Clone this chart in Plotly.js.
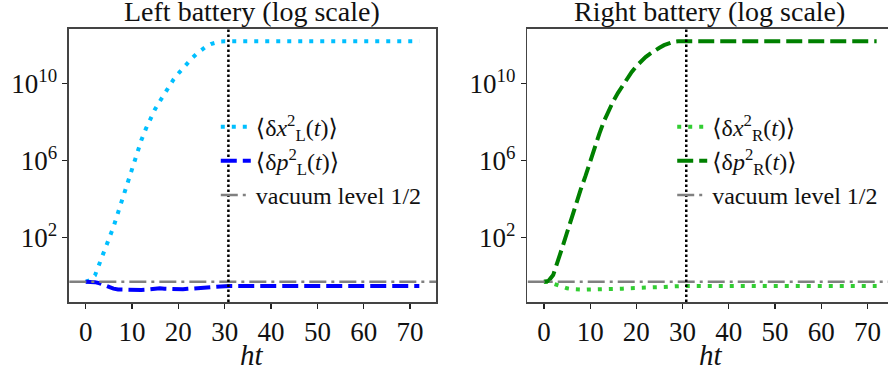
<!DOCTYPE html>
<html>
<head>
<meta charset="utf-8">
<script src="https://cdn.plot.ly/plotly-3.0.1.min.js"></script>
<style>html,body{margin:0;padding:0;background:#fff;}#chart{width:888px;height:376px;}</style>
</head>
<body>
<div id="chart"></div>
<script>
// time grid (ht)
const t = [0,1,2,3,4,5,6,7,8,9,10,11,12,13,14,15,16,17,18,19,20,21,22,23,24,25,26,27,28,29,30,31,72];

// Left battery
const xL = [0.5,0.63,1.07,4.47,17.8,79,355,2.0e3,1.12e4,5.6e4,4.5e5,2.5e6,1.12e7,4.5e7,1.5e8,4.8e8,1.2e9,2.95e9,7.1e9,1.66e10,3.3e10,6.3e10,1.17e11,2.14e11,3.6e11,5.9e11,8.3e11,1.12e12,1.38e12,1.51e12,1.55e12,1.55e12,1.55e12];
const pL = [0.5,0.5,0.48,0.42,0.33,0.26,0.22,0.2,0.195,0.195,0.2,0.195,0.19,0.195,0.21,0.225,0.23,0.22,0.21,0.2,0.2,0.205,0.215,0.225,0.245,0.26,0.27,0.28,0.29,0.3,0.305,0.305,0.305];

// Right battery
const xR = [0.5,0.48,0.4,0.32,0.26,0.23,0.21,0.2,0.195,0.195,0.2,0.2,0.2,0.2,0.205,0.21,0.215,0.22,0.23,0.232,0.235,0.238,0.24,0.245,0.25,0.26,0.27,0.28,0.295,0.3,0.305,0.305,0.305];
const pR = [0.5,0.56,1.12,5.2,31.6,182,1.12e3,6.3e3,3.3e4,1.58e5,9.5e5,5.0e6,2.5e7,1.12e8,4.0e8,1.2e9,3.16e9,7.9e9,1.86e10,4.0e10,7.9e10,1.41e11,2.34e11,3.55e11,5.25e11,7.2e11,9.8e11,1.23e12,1.45e12,1.55e12,1.55e12,1.55e12,1.55e12];

// reference levels
const vacuumLevel = 0.5;
const vacuumX = [-10, 100];
const tStop = 30.8;

const yTickVals = [1e2, 1e6, 1e10];
const yTickText = ['10<sup>2</sup>', '10<sup>6</sup>', '10<sup>10</sup>'];
const xTickVals = [0,10,20,30,40,50,60,70];

const serif = "'Liberation Serif', 'DejaVu Serif', serif";

const traces = [
  {x: t, y: xL, mode: 'lines', name: '⟨δ<i>x</i><sup>2</sup><sub>L</sub>(<i>t</i>)⟩',
   line: {color: '#00bfff', width: 4, dash: '4px,7px'}, xaxis: 'x', yaxis: 'y', legend: 'legend'},
  {x: t, y: pL, mode: 'lines', name: '⟨δ<i>p</i><sup>2</sup><sub>L</sub>(<i>t</i>)⟩',
   line: {color: '#0000ff', width: 4, dash: '16px,6px'}, xaxis: 'x', yaxis: 'y', legend: 'legend'},
  {x: vacuumX, y: [vacuumLevel, vacuumLevel], mode: 'lines', name: 'vacuum level 1/2',
   line: {color: '#808080', width: 2.5, dash: '17px,5px,3px,5px'}, xaxis: 'x', yaxis: 'y', legend: 'legend'},
  {x: t, y: xR, mode: 'lines', name: '⟨δ<i>x</i><sup>2</sup><sub>R</sub>(<i>t</i>)⟩',
   line: {color: '#32cd32', width: 4, dash: '4px,7px'}, xaxis: 'x2', yaxis: 'y2', legend: 'legend2'},
  {x: t, y: pR, mode: 'lines', name: '⟨δ<i>p</i><sup>2</sup><sub>R</sub>(<i>t</i>)⟩',
   line: {color: '#008000', width: 4, dash: '16px,6px'}, xaxis: 'x2', yaxis: 'y2', legend: 'legend2'},
  {x: vacuumX, y: [vacuumLevel, vacuumLevel], mode: 'lines', name: 'vacuum level 1/2',
   line: {color: '#808080', width: 2.5, dash: '17px,5px,3px,5px'}, xaxis: 'x2', yaxis: 'y2', legend: 'legend2'}
];

const xCommon = {
  tickvals: xTickVals, ticks: 'outside', ticklen: 5, tickwidth: 1.2, tickcolor: '#222',
  showline: true, mirror: true, linecolor: '#444', linewidth: 1.5,
  showgrid: false, zeroline: false,
  tickfont: {family: serif, size: 27, color: '#111'}
};
const yCommon = {
  type: 'log', range: [-1.35, 12.83], domain: [0.1968, 0.9229],
  tickvals: yTickVals, ticktext: yTickText,
  ticks: 'outside', ticklen: 5, tickwidth: 1.2, tickcolor: '#222',
  showline: true, mirror: true, linecolor: '#444', linewidth: 1.5,
  showgrid: false, zeroline: false,
  tickfont: {family: serif, size: 27, color: '#111'}
};

const legendCommon = {
  bgcolor: 'rgba(0,0,0,0)', borderwidth: 0,
  font: {family: serif, size: 24, color: '#111'},
  xanchor: 'left', yanchor: 'top', tracegroupgap: 0
};

const layout = {
  width: 888, height: 376,
  margin: {l: 0, r: 0, t: 0, b: 0},
  paper_bgcolor: '#fff', plot_bgcolor: '#fff',
  xaxis: Object.assign({}, xCommon, {domain: [0.0777, 0.4910], range: [-3.6, 75.6], anchor: 'y'}),
  yaxis: Object.assign({}, yCommon, {anchor: 'x'}),
  xaxis2: Object.assign({}, xCommon, {domain: [0.5938, 1.0], range: [-3.6, 74.46], anchor: 'y2'}),
  yaxis2: Object.assign({}, yCommon, {anchor: 'x2'}),
  legend: Object.assign({}, legendCommon, {x: 0.243, y: 0.722}),
  legend2: Object.assign({}, legendCommon, {x: 0.757, y: 0.722}),
  shapes: [
    {type: 'line', xref: 'x', yref: 'y domain', x0: tStop, x1: tStop, y0: 0, y1: 1, layer: 'above',
     line: {color: '#000', width: 2.5, dash: '2.5px,2.5px'}},
    {type: 'line', xref: 'x2', yref: 'y2 domain', x0: tStop, x1: tStop, y0: 0, y1: 1, layer: 'above',
     line: {color: '#000', width: 2.5, dash: '2.5px,2.5px'}}
  ],
  annotations: [
    {text: 'Left battery (log scale)', xref: 'paper', yref: 'paper', x: 0.2843, y: 0.9229,
     xanchor: 'center', yanchor: 'bottom', showarrow: false, font: {family: serif, size: 28, color: '#111'}},
    {text: 'Right battery (log scale)', xref: 'paper', yref: 'paper', x: 0.7992, y: 0.9229,
     xanchor: 'center', yanchor: 'bottom', showarrow: false, font: {family: serif, size: 28, color: '#111'}},
    {text: '<i>ht</i>', xref: 'paper', yref: 'paper', x: 0.2843, y: 0.0559,
     xanchor: 'center', yanchor: 'middle', showarrow: false, font: {family: serif, size: 29, color: '#111'}},
    {text: '<i>ht</i>', xref: 'paper', yref: 'paper', x: 0.8003, y: 0.0559,
     xanchor: 'center', yanchor: 'middle', showarrow: false, font: {family: serif, size: 29, color: '#111'}}
  ]
};

Plotly.newPlot('chart', traces, layout, {staticPlot: true, displayModeBar: false});
</script>
</body>
</html>
